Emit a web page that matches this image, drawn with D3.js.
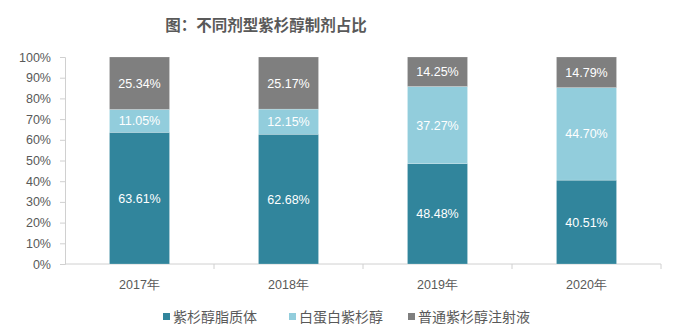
<!DOCTYPE html>
<html><head><meta charset="utf-8">
<script src="https://cdn.jsdelivr.net/npm/d3@7"></script>
<style>body{margin:0;background:#fff}</style>
</head><body>
<svg id="c" width="678" height="335"></svg>
<script>
const categories = ["2017年","2018年","2019年","2020年"];
const seriesNames = ["紫杉醇脂质体","白蛋白紫杉醇","普通紫杉醇注射液"];
const liposome = [63.61, 62.68, 48.48, 40.51];
const albumin = [11.05, 12.15, 37.27, 44.70];
const injection = [25.34, 25.17, 14.25, 14.79];
const yTicks = [0,10,20,30,40,50,60,70,80,90,100];
const colors = ["#31859c","#92cddc","#7f7f7f"];

const svg = d3.select("#c");
const L = 65, R = 661, T = 57, B = 264;
const x = d3.scaleBand().domain(categories).range([L,R]).paddingInner(0.597).paddingOuter(0.2985);
const y = d3.scaleLinear().domain([0,100]).range([B,T]);

svg.append("text").attr("x",266).attr("y",31).attr("text-anchor","middle")
  .attr("font-family","'Noto Sans CJK SC'").attr("font-weight","bold").attr("font-size",15.5)
  .attr("fill","#595959").text("图：不同剂型紫杉醇制剂占比");

const rows = categories.map((c,i)=>({cat:c, s0:liposome[i], s1:albumin[i], s2:injection[i]}));
const stack = d3.stack().keys(["s0","s1","s2"])(rows);

// y axis
const ya = svg.append("g").attr("transform",`translate(${L},0)`)
  .call(d3.axisLeft(y).tickValues(yTicks).tickFormat(d=>d+"%").tickSize(5).tickPadding(9));
ya.select(".domain").attr("stroke","#d0d0d0");
ya.selectAll(".tick line").attr("stroke","#d0d0d0");
ya.selectAll("text").attr("font-family","'Liberation Sans'").attr("font-size",12.5).attr("fill","#595959");

// x axis
const xa = svg.append("g").attr("transform",`translate(0,${B})`);
xa.append("line").attr("x1",L).attr("x2",R).attr("stroke","#d0d0d0");
const step = x.step();
categories.forEach((c,i)=>{ if(i>0) xa.append("line").attr("x1",x(c)-(step-x.bandwidth())/2).attr("x2",x(c)-(step-x.bandwidth())/2).attr("y1",0).attr("y2",5).attr("stroke","#d0d0d0"); });
xa.append("line").attr("x1",R).attr("x2",R).attr("y1",0).attr("y2",5).attr("stroke","#d0d0d0");
xa.selectAll("text.cat").data(categories).join("text").attr("class","cat")
  .attr("x",d=>x(d)+x.bandwidth()/2).attr("y",25).attr("text-anchor","middle")
  .attr("font-family","'Liberation Sans'").attr("font-size",12.5).attr("fill","#595959").text(d=>d);

// bars
stack.forEach((layer,k)=>{
  const g = svg.append("g");
  g.selectAll("rect").data(layer).join("rect")
    .attr("x",d=>x(d.data.cat)).attr("width",x.bandwidth())
    .attr("y",d=>y(d[1])).attr("height",d=>y(d[0])-y(d[1]))
    .attr("fill",colors[k]).attr("stroke","#ffffff").attr("stroke-width",0.5).attr("stroke-opacity",0.4);
  g.selectAll("text").data(layer).join("text")
    .attr("x",d=>x(d.data.cat)+x.bandwidth()/2).attr("y",d=>y((d[0]+d[1])/2)+4.5)
    .attr("text-anchor","middle").attr("font-family","'Liberation Sans'").attr("font-size",12.5)
    .attr("fill","#ffffff").text(d=>(d[1]-d[0]).toFixed(2)+"%");
});

// legend
const legX = [163, 289, 408];
seriesNames.forEach((n,k)=>{
  svg.append("rect").attr("x",legX[k]).attr("y",313).attr("width",7).attr("height",7).attr("fill",colors[k]);
  svg.append("text").attr("x",legX[k]+10).attr("y",321.5).attr("font-family","'Noto Sans CJK SC'")
    .attr("font-size",14).attr("fill","#595959").text(n);
});
</script>
</body></html>
